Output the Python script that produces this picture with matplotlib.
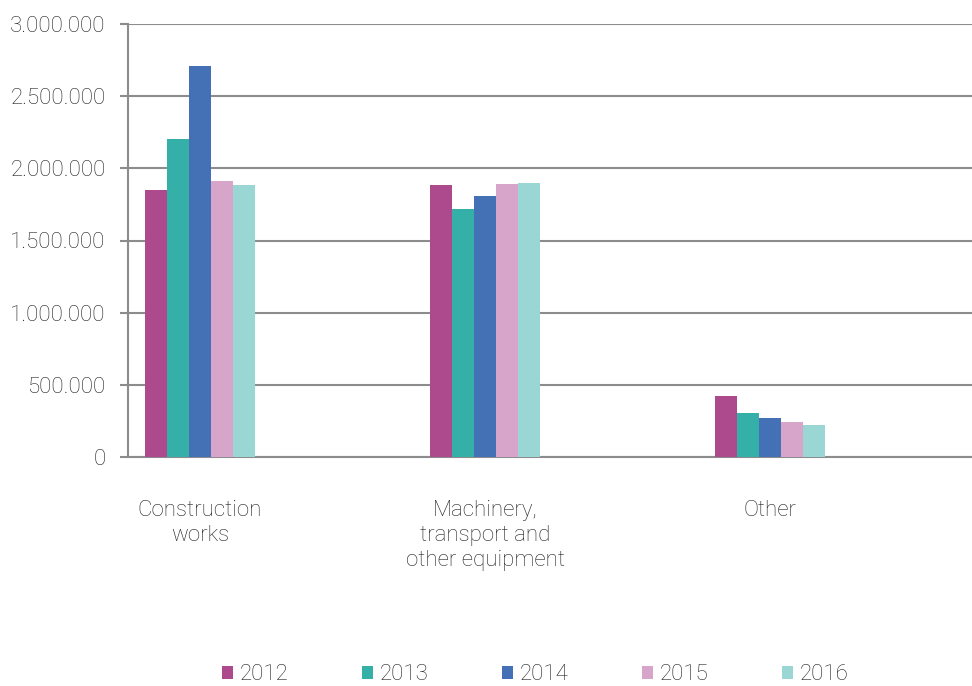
import numpy as np
import matplotlib
matplotlib.use("Agg")
import matplotlib.pyplot as plt
from matplotlib.ticker import FuncFormatter

plt.rcParams['font.family'] = ['Roboto', 'DejaVu Sans']
plt.rcParams['font.weight'] = 'light'

categories = ["Construction\nworks", "Machinery,\ntransport and\nother equipment", "Other"]
years = ["2012", "2013", "2014", "2015", "2016"]
values_2012 = [1849000, 1884000, 426000]
values_2013 = [2201000, 1715000, 304000]
values_2014 = [2711000, 1810000, 267000]
values_2015 = [1910000, 1893000, 242000]
values_2016 = [1882000, 1896000, 224000]
series = [values_2012, values_2013, values_2014, values_2015, values_2016]
colors = ["#AD4A8E", "#35B0A8", "#4470B5", "#D7A5C9", "#9AD6D4"]

grey = "#8C8C8C"
text_col = "#222222"
fs = 16

fig = plt.figure(figsize=(9.72, 6.86), dpi=100)
ax = fig.add_axes([128 / 972, (686 - 457) / 686, 1 - 128 / 972, (457 - 24) / 686])

x = np.arange(len(categories))
w = 22 / 285
for i, (yr, vals, c) in enumerate(zip(years, series, colors)):
    ax.bar(x + (i - 2) * w, vals, width=w, color=c, label=yr, zorder=3)

ax.set_ylim(0, 3000000)
ax.set_yticks(np.arange(0, 3000001, 500000))
ax.yaxis.set_major_formatter(FuncFormatter(lambda v, p: f"{int(v):,}".replace(",", ".")))
ax.set_xlim(-72 / 285, (972 - 200) / 285)
ax.set_xticks(x)
ax.set_xticklabels(categories, linespacing=1.24)

ax.grid(axis='y', color=grey, linewidth=1.5, zorder=0)
for s in ['top', 'right']:
    ax.spines[s].set_visible(False)
for s in ['left', 'bottom']:
    ax.spines[s].set_color(grey)
    ax.spines[s].set_linewidth(1.5)
ax.tick_params(axis='y', colors=grey, length=6, width=1.5, pad=10, labelsize=fs, labelcolor=text_col)
ax.tick_params(axis='x', length=0, pad=31, labelsize=fs, labelcolor=text_col)

fig.legend(loc='center', bbox_to_anchor=(535 / 972, 1 - 675 / 686), ncol=5, frameon=False,
           fontsize=fs, handlelength=0.5, handleheight=0.5, handletextpad=0.3,
           columnspacing=3.3, labelcolor=text_col)

fig.savefig("out.png", dpi=100)
